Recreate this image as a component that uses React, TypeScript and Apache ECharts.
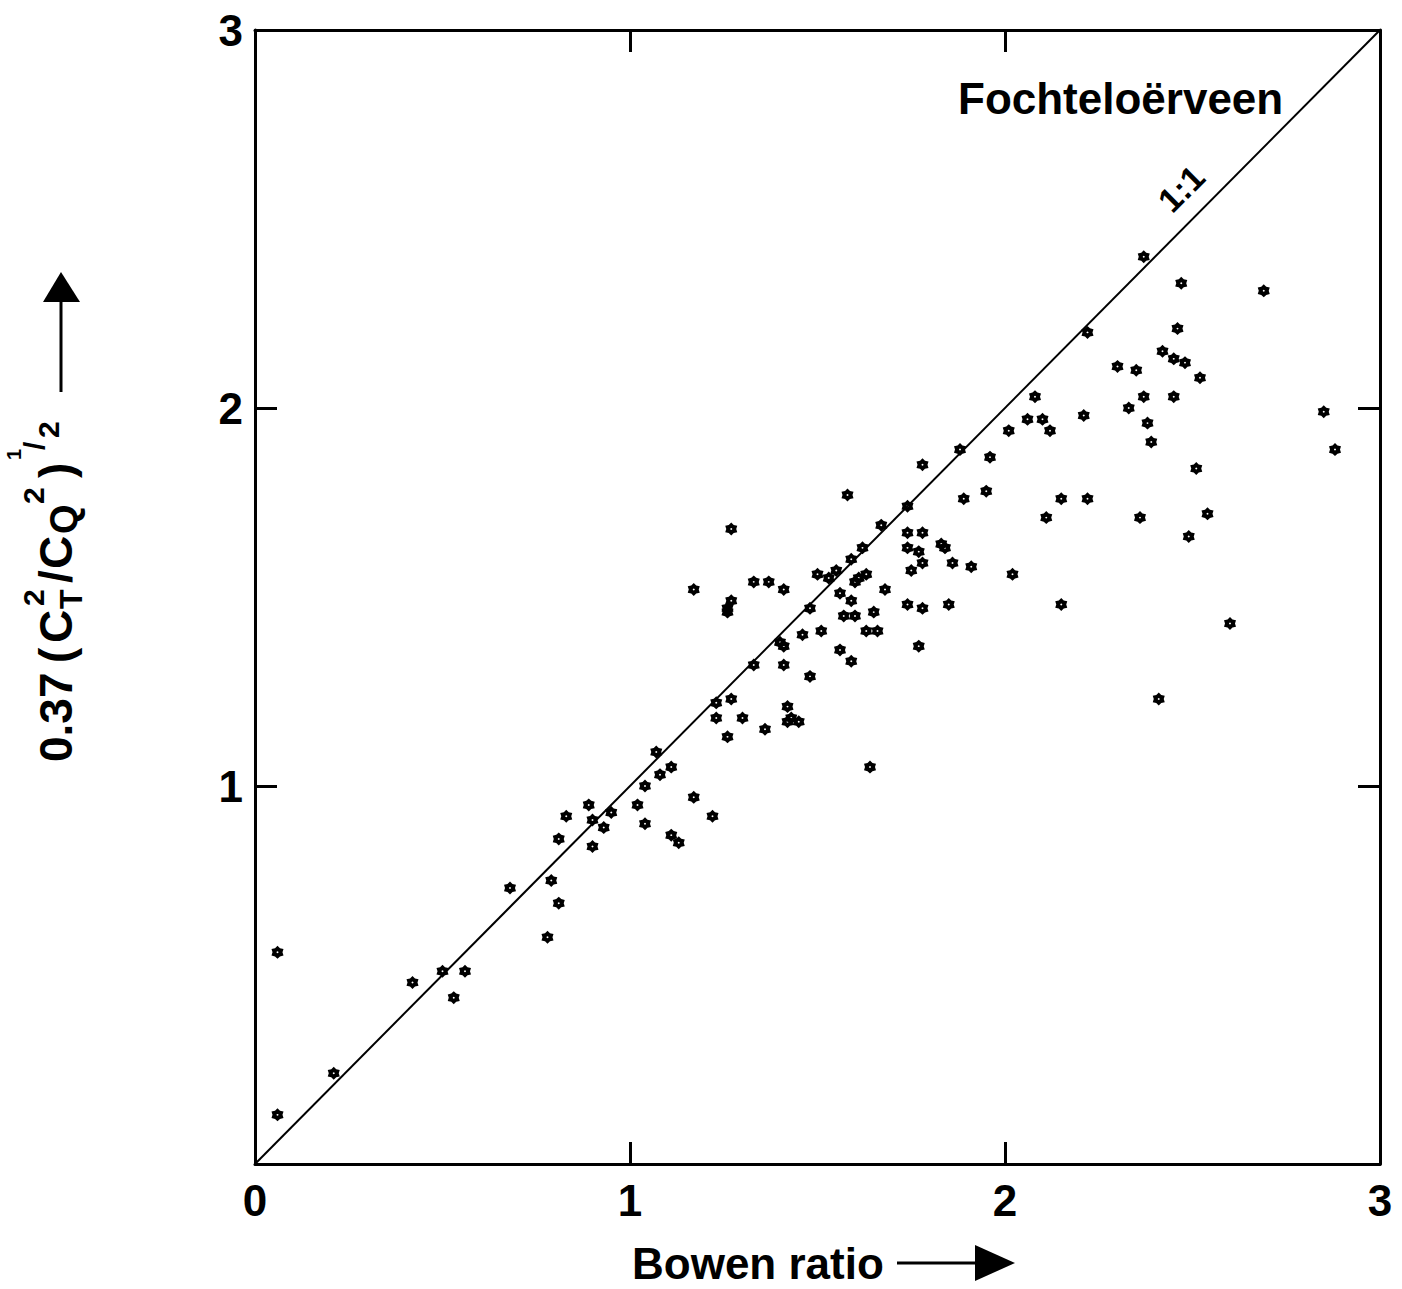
import React, { useEffect, useRef } from "react";
import * as echarts from "echarts";

// Bowen ratio (x) and 0.37(CT²/CQ²)^½ (y)
const bowenRatio = [
  0.06, 0.06, 0.21, 0.42, 0.5, 0.56, 0.53, 0.68, 0.79, 0.81, 0.78, 0.81, 0.83, 0.89, 0.9, 0.9, 0.93, 0.95, 1.02, 1.04, 1.04,
  1.07, 1.11, 1.08, 1.64, 1.23, 1.27, 1.23, 1.3, 1.26, 1.36, 1.42, 1.43, 1.42, 1.45, 1.33, 1.41, 1.48, 1.4, 1.41, 1.46,
  1.51, 1.56, 1.59, 1.63, 1.66, 1.77, 1.48, 1.57, 1.6, 1.65, 1.68, 1.74, 1.78, 1.85, 1.56, 1.59, 1.61, 1.6, 1.63, 1.17,
  1.26, 1.27, 1.26, 1.27, 1.33, 1.37, 1.41, 1.58, 1.5, 1.53, 1.55, 1.59, 1.62, 1.67, 1.74, 1.89, 1.95, 1.74, 1.78, 1.74,
  1.77, 1.83, 1.84, 1.75, 1.78, 1.86, 1.91,
  1.78, 1.88, 1.96, 2.01, 2.06, 2.08, 2.1, 2.12, 2.21, 2.22, 2.37, 2.47, 2.69, 2.46, 2.42, 2.45, 2.48, 2.3, 2.35, 2.52,
  2.37, 2.45, 2.33, 2.38, 2.39, 2.85, 2.88, 2.51, 2.15, 2.22, 2.11, 2.36, 2.54, 2.49, 2.02, 2.15, 2.6, 2.41,
  1.17, 1.11, 1.13, 1.22,
];
const ctcqRatio = [
  0.56, 0.13, 0.24, 0.48, 0.51, 0.51, 0.44, 0.73, 0.75, 0.69, 0.6, 0.86, 0.92, 0.95, 0.91, 0.84, 0.89, 0.93, 0.95, 1.0, 0.9,
  1.09, 1.05, 1.03, 1.05, 1.22, 1.23, 1.18, 1.18, 1.13, 1.15, 1.21, 1.18, 1.17, 1.17, 1.32, 1.32, 1.29, 1.38, 1.37, 1.4,
  1.41, 1.36, 1.33, 1.41, 1.41, 1.37, 1.47, 1.45, 1.45, 1.46, 1.52, 1.48, 1.47, 1.48, 1.51, 1.49, 1.55, 1.54, 1.56, 1.52,
  1.47, 1.49, 1.46, 1.68, 1.54, 1.54, 1.52, 1.77, 1.56, 1.55, 1.57, 1.6, 1.63, 1.69, 1.74, 1.76, 1.78, 1.67, 1.67, 1.63,
  1.62, 1.64, 1.63, 1.57, 1.59, 1.59, 1.58,
  1.85, 1.89, 1.87, 1.94, 1.97, 2.03, 1.97, 1.94, 1.98, 2.2, 2.4, 2.33, 2.31, 2.21, 2.15, 2.13, 2.12, 2.11, 2.1, 2.08,
  2.03, 2.03, 2.0, 1.96, 1.91, 1.99, 1.89, 1.84, 1.76, 1.76, 1.71, 1.71, 1.72, 1.66, 1.56, 1.48, 1.43, 1.23,
  0.97, 0.87, 0.85, 0.92,
];
const oneToOne = [
  [0, 0],
  [3, 3],
];
const oneToOneLabelPos = [2.47, 2.58];
const axisTicks = [0, 1, 2, 3];
const siteName = "Fochteloërveen";
const xName = "Bowen ratio";

const FONT = '"Liberation Sans", Arial, Helvetica, sans-serif';
const STAR =
  "path://M10 0 L13.6 3.76 L18.66 5 L17.2 10 L18.66 15 L13.6 16.24 L10 20 L6.4 16.24 L1.34 15 L2.8 10 L1.34 5 L6.4 3.76 Z M10 8.5 L8.7 9.25 L8.7 10.75 L10 11.5 L11.3 10.75 L11.3 9.25 Z";

function textStyle(text: string, size: number, align = "left") {
  return {
    text,
    fill: "#000",
    fontSize: size,
    fontWeight: "bold",
    fontFamily: FONT,
    align,
    verticalAlign: "middle",
    textAlign: align,
    textVerticalAlign: "middle",
  };
}

// one piece of the rotated y-axis title, in the title's own (rotated) frame
function piece(text: string, x: number, y: number, size: number) {
  return { type: "text", x, y, style: textStyle(text, size) };
}

export default function App() {
  const ref = useRef<HTMLDivElement>(null);
  useEffect(() => {
    if (!ref.current) return;
    const chart = echarts.init(ref.current, null, { renderer: "svg" });
    const points = bowenRatio.map((x, i) => [x, ctcqRatio[i]]);
    const lineStyle = { color: "#000", width: 3 };
    const tick = { show: true, inside: true, length: 22, lineStyle: { color: "#000", width: 3 } };
    const baseAxis = {
      type: "value",
      min: axisTicks[0],
      max: axisTicks[axisTicks.length - 1],
      interval: 1,
      splitLine: { show: false },
      axisLine: { show: true, onZero: false, lineStyle },
      axisTick: tick,
    };
    const labelStyle = { color: "#000", fontSize: 44, fontWeight: "bold", fontFamily: FONT };
    chart.setOption({
      animation: false,
      backgroundColor: "#fff",
      grid: { left: 255, right: 22, top: 30, bottom: 125 },
      xAxis: [
        { ...baseAxis, position: "bottom", axisLabel: { ...labelStyle, margin: 14 } },
        { ...baseAxis, position: "top", axisLabel: { show: false } },
      ],
      yAxis: [
        {
          ...baseAxis,
          position: "left",
          axisLabel: { ...labelStyle, margin: 12, formatter: (v: number) => (v === 0 ? "" : String(v)) },
        },
        { ...baseAxis, position: "right", axisLabel: { show: false } },
      ],
      series: [
        {
          type: "line",
          data: oneToOne,
          symbol: "none",
          lineStyle: { color: "#000", width: 2 },
          silent: true,
        },
        {
          type: "scatter",
          data: points,
          symbol: STAR,
          symbolSize: [12, 13],
          itemStyle: { color: "#000", opacity: 1 },
        },
      ],
    });

    const lp = chart.convertToPixel({ gridIndex: 0 }, oneToOneLabelPos) as number[];
    chart.setOption({
      graphic: [
        { type: "text", x: lp[0], y: lp[1], rotation: Math.PI / 4, style: textStyle("1:1", 34, "center") },
        { type: "text", x: 958, y: 98, style: textStyle(siteName, 44) },
        { type: "text", x: 632, y: 1263, style: textStyle(xName, 44) },
        { type: "line", shape: { x1: 897, y1: 1263, x2: 977, y2: 1263 }, style: { stroke: "#000", lineWidth: 3 } },
        { type: "polygon", shape: { points: [[975, 1245], [975, 1281], [1015, 1263]] }, style: { fill: "#000" } },
        {
          type: "group",
          x: 72,
          y: 762,
          rotation: Math.PI / 2,
          children: [
            piece("0.37", 0, -16, 46),
            piece("(", 99, -16, 46),
            piece("C", 119, -16, 46),
            piece("T", 153, -1, 32),
            piece("2", 156, -39, 30),
            piece("/", 179, -16, 46),
            piece("C", 193, -16, 46),
            piece("Q", 228, -8, 38),
            piece("2", 258, -39, 30),
            piece(")", 284, -16, 46),
            piece("1", 302, -58, 20),
            piece("/", 312, -38, 30),
            piece("2", 324, -24, 30),
          ],
        },
        { type: "line", shape: { x1: 61, y1: 392, x2: 61, y2: 300 }, style: { stroke: "#000", lineWidth: 3 } },
        { type: "polygon", shape: { points: [[43, 302], [80, 302], [61, 272]] }, style: { fill: "#000" } },
      ],
    });
    return () => chart.dispose();
  }, []);
  return (
    <div
      ref={ref}
      style={{ position: "fixed", left: 0, top: 0, width: 1402, height: 1289, background: "#fff" }}
    />
  );
}
